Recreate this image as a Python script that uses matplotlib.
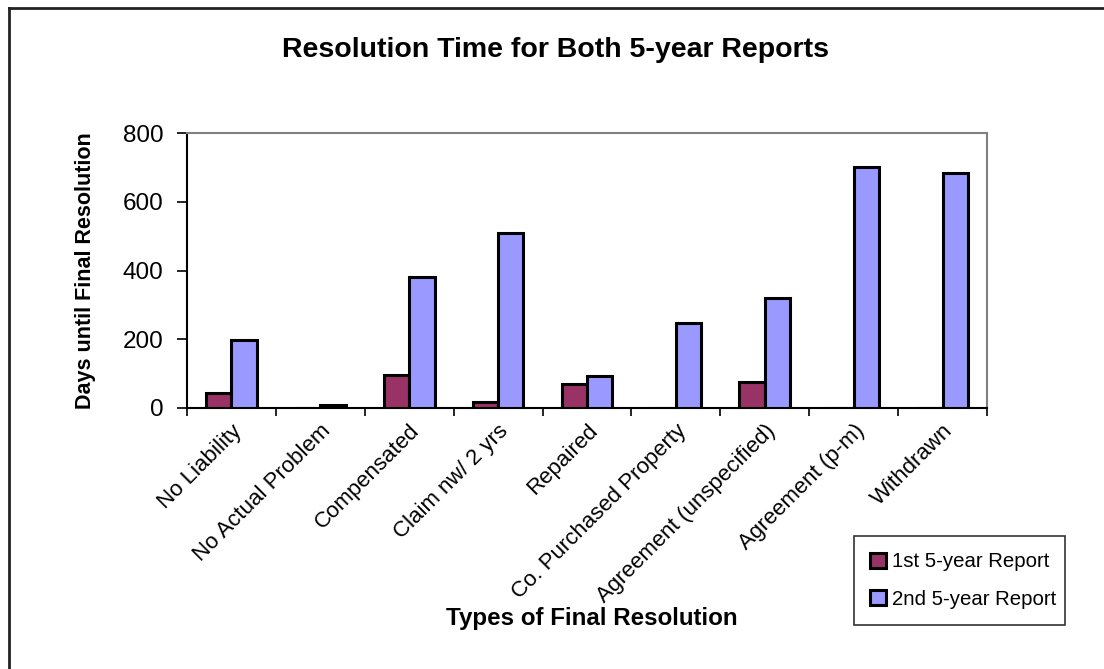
import matplotlib
matplotlib.use("Agg")
import matplotlib.pyplot as plt
from matplotlib.lines import Line2D
import numpy as np

plt.rcParams['font.family'] = ['Liberation Sans', 'DejaVu Sans']

categories = ["No Liability", "No Actual Problem", "Compensated", "Claim nw/ 2 yrs",
              "Repaired", "Co. Purchased Property", "Agreement (unspecified)",
              "Agreement (p-m)", "Withdrawn"]
first_report = [44, 0, 96, 17, 70, 0, 76, 0, 0]
second_report = [197, 10, 382, 510, 94, 246, 319, 701, 684]
series_names = ["1st 5-year Report", "2nd 5-year Report"]
y_ticks = [0, 200, 400, 600, 800]

fig = plt.figure(figsize=(11.04, 6.69), dpi=100)
ax = fig.add_axes([187 / 1104, 1 - 408 / 669, 800 / 1104, 275 / 669])

x = np.arange(len(categories))
w = 0.285
ax.bar(x - w / 2, first_report, w, color="#993366", edgecolor="black", linewidth=2.2,
       label=series_names[0], zorder=3)
ax.bar(x + w / 2, second_report, w, color="#9999FF", edgecolor="black", linewidth=2.2,
       label=series_names[1], zorder=3)

ax.set_xlim(-0.5, len(categories) - 0.5)
ax.set_ylim(0, 800)
ax.set_yticks(y_ticks)
ax.tick_params(axis='y', labelsize=17.5, length=7, width=1.2, direction='out', pad=10)

# category boundary ticks with labels at the centers
ax.set_xticks(np.arange(len(categories) + 1) - 0.5)
ax.set_xticklabels([])
ax.tick_params(axis='x', length=6, width=1.2, direction='out')
ax.set_xticks(x, minor=True)
ax.set_xticklabels(categories, minor=True, rotation=45, ha='right',
                   rotation_mode='anchor', fontsize=16)
ax.tick_params(axis='x', which='minor', length=0, pad=9)

for side in ['left', 'bottom']:
    ax.spines[side].set_color('black')
    ax.spines[side].set_linewidth(1.5)
for side in ['top', 'right']:
    ax.spines[side].set_color('#808080')
    ax.spines[side].set_linewidth(1.5)

fig.text(86 / 1104, 1 - 271 / 669, "Days until Final Resolution", fontsize=15.5,
         fontweight='bold', ha='center', va='center', rotation=90)
fig.text(592 / 1104, 1 - 618 / 669, "Types of Final Resolution", fontsize=17.4,
         fontweight='bold', ha='center', va='center')
fig.text(556 / 1104, 1 - 50 / 669, "Resolution Time for Both 5-year Reports",
         fontsize=20.5, fontweight='bold', ha='center', va='center')

leg = ax.legend(loc='lower left', bbox_to_anchor=(854 / 1104, 1 - 625 / 669, 211 / 1104, 94 / 669),
                bbox_transform=fig.transFigure, mode='expand', fontsize=14.7, frameon=True,
                fancybox=False, edgecolor='black', handlelength=0.75, handleheight=0.75,
                handletextpad=0.3, labelspacing=0.9, borderaxespad=0, borderpad=0.8)
leg.get_frame().set_linewidth(1.2)

# chart area frame
fig.add_artist(Line2D([8.5 / 1104, 8.5 / 1104], [0, 1 - 7.5 / 669], color='#222222',
                      linewidth=2, transform=fig.transFigure))
fig.add_artist(Line2D([8.5 / 1104, 1], [1 - 7.5 / 669, 1 - 7.5 / 669], color='#222222',
                      linewidth=2, transform=fig.transFigure))

fig.savefig("out.png", dpi=100, facecolor='white')
